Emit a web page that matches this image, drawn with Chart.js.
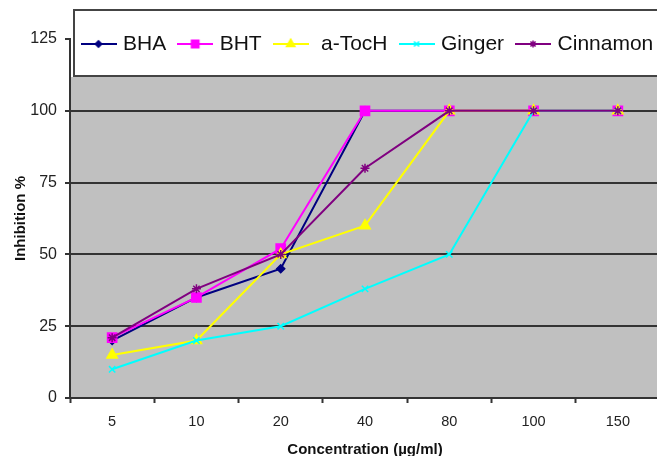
<!DOCTYPE html>
<html lang="en">
<head>
    <meta charset="UTF-8">
    <title>Inhibition %</title>
    <script src="https://cdn.jsdelivr.net/npm/chart.js"></script>
    <style>
        body {
            margin: 0;
            overflow: hidden;
            background: #fff;
        }
        #wrap {
            width: 668px;
            height: 456px;
        }
    </style>
</head>
<body>

<div id="wrap"><canvas id="graph" width="668" height="456"></canvas></div>

<script>
    // valeurs
    const concentrations = ['5', '10', '20', '40', '80', '100', '150'];
    const bha = [20, 35, 45, 100, 100, 100, 100];
    const bht = [21, 35, 52, 100, 100, 100, 100];
    const aToch = [15, 20, 50, 60, 100, 100, 100];
    const ginger = [10, 20, 25, 38, 50, 100, 100];
    const cinnamon = [21, 38, 50, 80, 100, 100, 100];
    const yTicks = [0, 25, 50, 75, 100, 125];

    const series = [
        { label: 'BHA', data: bha, color: '#000080', style: 'rectRot', r: 4 },
        { label: 'BHT', data: bht, color: '#ff00ff', style: 'rect', r: 6.5 },
        { label: ' a-TocH', data: aToch, color: '#ffff00', style: 'triangle', r: 6 },
        { label: 'Ginger', data: ginger, color: '#00ffff', style: 'crossRot', r: 4.5 },
        { label: 'Cinnamon', data: cinnamon, color: '#800080', style: 'star', r: 4.5 }
    ];

    const baseFont = '"Liberation Sans", Arial, sans-serif';
    const legendFont = { family: baseFont, size: 21 };
    const legendPad = 15;
    // la légende : trait + marqueur, texte qui commence vers x = 123
    const firstBox = 84.5;
    const pointW = 123 - legendFont.size / 2 - firstBox;

    function legendIcon(s) {
        const c = document.createElement('canvas');
        c.width = 36;
        c.height = 14;
        const g = c.getContext('2d');
        g.strokeStyle = s.color;
        g.fillStyle = s.color;
        g.lineWidth = 2;
        g.beginPath();
        g.moveTo(0, 7);
        g.lineTo(36, 7);
        g.stroke();
        g.lineWidth = 1.5;
        Chart.helpers.drawPoint(g, { pointStyle: s.style, radius: s.r * 0.8, borderWidth: 1.5, rotation: 0 }, 18, 7);
        return c;
    }

    // fond gris sous la légende + cadre blanc de la légende
    const cadre = {
        id: 'cadre',
        afterLayout(chart) {
            const lg = chart.legend;
            lg.left = firstBox - legendPad;
            lg.top = 44 - legendPad - legendFont.size / 2;
            lg.right = 3000;
            lg.bottom = 77;
        },
        beforeDraw(chart) {
            const { ctx, chartArea: a } = chart;
            ctx.save();
            ctx.fillStyle = '#c0c0c0';
            ctx.fillRect(a.left, 77, a.right - a.left, a.bottom - 77);
            ctx.fillStyle = '#fff';
            ctx.fillRect(74, 10, chart.width, 66);
            ctx.strokeStyle = '#444';
            ctx.lineWidth = 2;
            ctx.strokeRect(74, 10, chart.width, 66);
            ctx.restore();
        }
    };

    new Chart(document.getElementById('graph').getContext('2d'), {
        type: 'line',
        data: {
            labels: concentrations,
            datasets: series.map((s, i) => ({
                label: s.label,
                data: s.data,
                borderColor: s.color,
                backgroundColor: s.color,
                pointBackgroundColor: s.color,
                pointBorderColor: s.color,
                pointStyle: s.style,
                pointRadius: s.r,
                pointBorderWidth: 1.5,
                borderWidth: 2,
                tension: 0,
                order: series.length - i
            }))
        },
        options: {
            responsive: false,
            animation: false,
            layout: { padding: { top: 0, right: 3, bottom: 0, left: 0 } },
            plugins: {
                tooltip: { enabled: false },
                legend: {
                    position: 'top',
                    align: 'start',
                    maxHeight: 39,
                    labels: {
                        usePointStyle: true,
                        pointStyleWidth: pointW,
                        padding: legendPad,
                        color: '#111',
                        font: legendFont,
                        generateLabels: () => series.map((s, i) => ({
                            text: s.label,
                            pointStyle: legendIcon(s),
                            datasetIndex: i,
                            fontColor: '#111',
                            fillStyle: s.color,
                            strokeStyle: s.color,
                            lineWidth: 0,
                            hidden: false,
                            rotation: 0
                        }))
                    }
                }
            },
            scales: {
                x: {
                    offset: true,
                    grid: {
                        display: true,
                        offset: true,
                        drawOnChartArea: false,
                        drawTicks: true,
                        tickLength: 5,
                        tickColor: '#333',
                        tickWidth: 2
                    },
                    border: { color: '#333', width: 2 },
                    ticks: {
                        color: '#222',
                        font: { family: baseFont, size: 14.5 },
                        padding: 10,
                        maxRotation: 0,
                        autoSkip: false
                    },
                    title: {
                        display: true,
                        text: 'Concentration (µg/ml)',
                        color: '#111',
                        font: { family: baseFont, size: 15, weight: 'bold', lineHeight: 1 },
                        padding: { top: 0, bottom: -1 }
                    },
                    afterFit: (s) => { s.height = 58; }
                },
                y: {
                    min: 0,
                    max: 125,
                    afterBuildTicks: (s) => { s.ticks = yTicks.map(v => ({ value: v })); },
                    grid: {
                        color: (c) => (c.tick && c.tick.value === 125 ? 'rgba(0,0,0,0)' : '#333'),
                        lineWidth: 2,
                        tickLength: 5,
                        tickColor: '#333',
                        tickWidth: 2
                    },
                    border: { color: '#333', width: 2 },
                    ticks: {
                        color: '#222',
                        font: { family: baseFont, size: 16 },
                        padding: 8
                    },
                    title: {
                        display: true,
                        text: 'Inhibition %',
                        color: '#111',
                        font: { family: baseFont, size: 15, weight: 'bold', lineHeight: 1 },
                        padding: { top: 13, bottom: 0 }
                    },
                    afterFit: (s) => { s.width = 70; }
                }
            }
        },
        plugins: [cadre]
    });
</script>

</body>
</html>
